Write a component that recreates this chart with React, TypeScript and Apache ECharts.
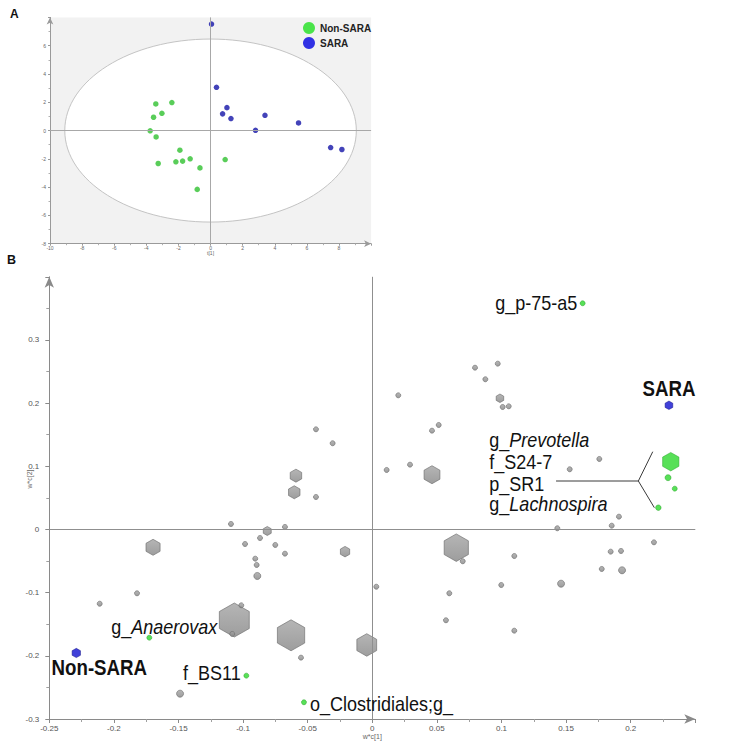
import React, { useEffect, useRef } from 'react';
import * as echarts from 'echarts';

// ---------- Panel A : scores t[1] / t[2] ----------
const groupNames = ['Non-SARA', 'SARA'];
const nonSaraT1 = [-3.41, -2.41, -3.03, -3.55, -3.76, -3.39, -1.91, -3.26, -2.16, -1.74, -1.27, -0.66, 0.91, -0.83];
const nonSaraT2 = [1.88, 1.98, 1.22, 0.94, -0.02, -0.45, -1.39, -2.33, -2.21, -2.16, -2.0, -2.64, -2.05, -4.16];
const saraT1 = [0.06, 0.37, 1.02, 0.75, 1.27, 3.39, 2.8, 5.48, 7.48, 8.18];
const saraT2 = [7.53, 3.06, 1.62, 1.18, 0.85, 1.08, 0.02, 0.54, -1.2, -1.34];
const ellipseT1 = 9.08; // Hotelling T2 ellipse semi-axis on t[1]
const ellipseT2 = 6.47; // on t[2]
const axisA = { xMin: -10, xMax: 10, xStep: 2, yMin: -8, yMax: 8, yStep: 2 };

// ---------- Panel B : loadings w*c[1] / w*c[2] ----------
const grayW1 = [
  -0.1068, -0.0629, 0.065, -0.0043, 0.0462, -0.1697, -0.0591, -0.0604, -0.0211, -0.0813, 0.0988,
  -0.089, -0.1488, 0.1933, 0.1461,
  -0.0436, -0.0307, -0.0436, 0.0971, 0.0795, 0.0875, 0.0201, 0.1009, 0.1056, 0.0514, 0.0462,
  0.1757, 0.1528, 0.0111, 0.0292, -0.1094, -0.0676, -0.0985, -0.0869, -0.0751, -0.0676, -0.0906,
  -0.0895, 0.0031, -0.1821, -0.211, -0.1014, -0.1084, -0.0552, 0.1909, 0.1853, 0.1432, 0.218,
  0.1845, 0.1925, 0.1776, 0.07, 0.1099, 0.0998, 0.0596, 0.057, 0.1099,
];
const grayW2 = [
  -0.1433, -0.1675, -0.0288, -0.1828, 0.0867, -0.0282, 0.0852, 0.0589, -0.0351, -0.0024, 0.2077,
  -0.0736, -0.2599, -0.0646, -0.0858,
  0.1586, 0.1365, 0.0514, 0.2625, 0.2561, 0.2378, 0.2124, 0.1939, 0.195, 0.1654, 0.1564,
  0.1116, 0.0953, 0.0942, 0.1026, 0.0087, 0.004, -0.023, -0.0135, -0.0245, -0.0383, -0.0462,
  -0.0562, -0.0906, -0.101, -0.1175, -0.12, -0.1654, -0.2029, 0.0203, 0.006, 0.0019, -0.0203,
  -0.0351, -0.034, -0.0625, -0.0503, -0.042, -0.0879, -0.101, -0.1437, -0.1602,
];
const grayVip = [
  6.8, 6.2, 5.5, 4.5, 3.6, 3.2, 2.6, 2.6, 2.1, 1.8, 1.7,
  1.4, 1.4, 1.4, 1.4,
  1, 1, 1, 1, 1, 1, 1, 1, 1, 1, 1,
  1, 1, 1, 1, 1, 1, 1, 1, 1, 1, 1,
  1, 1, 1, 1, 1, 1, 1, 1, 1, 1, 1,
  1, 1, 1, 1, 1, 1, 1, 1, 1,
];
const taxaNames = ['g_Prevotella', 'f_S24-7', 'p_SR1', 'g_Lachnospira', 'g_p-75-a5', 'g_Anaerovax', 'f_BS11', 'o_Clostridiales;g_'];
const taxaW1 = [0.231, 0.2289, 0.2341, 0.2214, 0.1628, -0.1726, -0.0975, -0.0529];
const taxaW2 = [0.1073, 0.082, 0.0646, 0.0345, 0.3581, -0.1713, -0.2314, -0.2735];
const taxaVip = [3.7, 1.2, 1.0, 1.1, 1.0, 1.0, 1.0, 1.0];
const italicGenera = ['Prevotella', 'Lachnospira', 'Anaerovax'];
const groupW1 = [-0.2291, 0.2296];
const groupW2 = [-0.1955, 0.1966];
const groupVip = [1.85, 1.7];
const axisB = { xMin: -0.25, xMax: 0.25, xStep: 0.05, yMin: -0.3, yMax: 0.4, yStep: 0.1 };

const FONT = "'Liberation Sans', Arial, Helvetica, sans-serif";
const HEX = 'path://M0,-10L8.66,-5L8.66,5L0,10L-8.66,5L-8.66,-5Z';
const isHex = (v: number) => v >= 1.6;
const symFn = (val: number[]) => (isHex(val[2]) ? HEX : 'circle');
const sizeFn = (val: number[]) => (isHex(val[2]) ? [val[2] * 5 * 0.88, val[2] * 5] : val[2] * 5);

const zip3 = (a: number[], b: number[], c: number[]) => a.map((v, i) => [v, b[i], c[i]]);

function richLabel(name: string) {
  const g = italicGenera.find((n) => name.endsWith(n));
  if (g) return `{n|${name.slice(0, name.length - g.length)}}{i|${g}}`;
  return `{n|${name}}`;
}

export default function App() {
  const ref = useRef<HTMLDivElement>(null);
  useEffect(() => {
    const chart = echarts.init(ref.current!, null, { renderer: 'svg' });

    const axisCommonA = {
      axisLine: { show: true, onZero: false, symbol: ['none', 'arrow'], symbolSize: [5, 7], lineStyle: { color: '#9a9a9a', width: 1 } },
      axisTick: { show: true, length: 2, lineStyle: { color: '#9a9a9a' } },
      minorTick: { show: true, splitNumber: 2, length: 1.5, lineStyle: { color: '#b0b0b0' } },
      splitLine: { show: false },
      axisLabel: { fontSize: 5, color: '#666', fontFamily: FONT, showMaxLabel: false },
    };
    const axisCommonB = {
      axisLine: { show: true, onZero: false, symbol: ['none', 'arrow'], symbolSize: [7, 11], lineStyle: { color: '#8a8a8a', width: 1 } },
      axisTick: { show: true, length: 4, lineStyle: { color: '#8a8a8a' } },
      minorTick: { show: true, splitNumber: 2, length: 3, lineStyle: { color: '#a0a0a0' } },
      splitLine: { show: false },
    };

    const grayData = zip3(grayW1, grayW2, grayVip);
    const taxaData = zip3(taxaW1, taxaW2, taxaVip);
    const groupData = zip3(groupW1, groupW2, groupVip);

    const option: any = {
      animation: false,
      backgroundColor: '#ffffff',
      textStyle: { fontFamily: FONT },
      legend: {
        data: [
          { name: groupNames[0], icon: 'circle', itemStyle: { color: '#1fe01f' } },
          { name: groupNames[1], icon: 'circle', itemStyle: { color: '#0000e0' } },
        ],
        orient: 'vertical',
        left: 303,
        top: 22,
        padding: 0,
        itemWidth: 12,
        itemHeight: 12,
        itemGap: 3,
        selectedMode: false,
        textStyle: { fontSize: 10, fontWeight: 'bold', color: '#222', fontFamily: FONT },
      },
      grid: [
        { left: 50, top: 17.4, width: 321.1, height: 226.3, show: true, backgroundColor: '#f2f2f2', borderWidth: 0, containLabel: false, outerBoundsMode: 'none' },
        { left: 49.3, top: 276.8, width: 646, height: 442.2, show: false, containLabel: false, outerBoundsMode: 'none' },
      ],
      xAxis: [
        {
          type: 'value', gridIndex: 0, min: axisA.xMin, max: axisA.xMax, interval: axisA.xStep,
          ...axisCommonA,
          axisLabel: { ...axisCommonA.axisLabel, margin: 2 },
        },
        {
          type: 'value', gridIndex: 1, min: axisB.xMin, max: axisB.xMax, interval: axisB.xStep,
          ...axisCommonB,
          axisLabel: { fontSize: 8, color: '#555', fontFamily: FONT, margin: 5, showMaxLabel: false },
        },
      ],
      yAxis: [
        {
          type: 'value', gridIndex: 0, min: axisA.yMin, max: axisA.yMax, interval: axisA.yStep,
          ...axisCommonA,
          axisLabel: { ...axisCommonA.axisLabel, margin: 4 },
        },
        {
          type: 'value', gridIndex: 1, min: axisB.yMin, max: axisB.yMax, interval: axisB.yStep,
          ...axisCommonB,
          axisLabel: { fontSize: 8, color: '#555', fontFamily: FONT, margin: 10, showMaxLabel: false },
        },
      ],
      series: [
        {
          type: 'custom', name: 'ellipse', xAxisIndex: 0, yAxisIndex: 0, silent: true, z: 1, clip: false,
          data: [[0, 0, ellipseT1, ellipseT2]],
          renderItem: (params: any, api: any) => {
            const c = api.coord([api.value(0), api.value(1)]);
            const e = api.coord([api.value(2), api.value(3)]);
            return {
              type: 'ellipse',
              shape: { cx: c[0], cy: c[1], rx: Math.abs(e[0] - c[0]), ry: Math.abs(c[1] - e[1]) },
              style: { fill: '#ffffff', stroke: '#c4c4c4', lineWidth: 1 },
            };
          },
        },
        {
          type: 'scatter', name: 'crossA', xAxisIndex: 0, yAxisIndex: 0, data: [], z: 2, silent: true,
          markLine: {
            silent: true, symbol: ['none', 'none'], label: { show: false }, animation: false,
            lineStyle: { color: '#a8a8a8', width: 1, type: 'solid' },
            emphasis: { disabled: true },
            data: [{ xAxis: 0 }, { yAxis: 0 }],
          },
        },
        {
          type: 'scatter', name: groupNames[0], xAxisIndex: 0, yAxisIndex: 0, z: 3, symbolSize: 5.5,
          itemStyle: { color: '#30c030' },
          data: nonSaraT1.map((v, i) => [v, nonSaraT2[i]]),
        },
        {
          type: 'scatter', name: groupNames[1], xAxisIndex: 0, yAxisIndex: 0, z: 3, symbolSize: 5.5,
          itemStyle: { color: '#1414a8' },
          data: saraT1.map((v, i) => [v, saraT2[i]]),
        },
        {
          type: 'scatter', name: 'crossB', xAxisIndex: 1, yAxisIndex: 1, data: [], z: 2, silent: true,
          markLine: {
            silent: true, symbol: ['none', 'none'], label: { show: false }, animation: false,
            lineStyle: { color: '#8f8f8f', width: 1, type: 'solid' },
            emphasis: { disabled: true },
            data: [{ xAxis: 0 }, { yAxis: 0 }],
          },
        },
        {
          type: 'scatter', name: 'loadings', xAxisIndex: 1, yAxisIndex: 1, z: 3,
          symbol: symFn, symbolSize: sizeFn,
          itemStyle: {
            color: new echarts.graphic.LinearGradient(0, 0, 0, 1, [
              { offset: 0, color: '#a3a3a3' },
              { offset: 1, color: '#858585' },
            ]),
            borderColor: '#6c6c6c', borderWidth: 0.8,
          },
          data: grayData,
        },
        {
          type: 'scatter', name: 'taxa', xAxisIndex: 1, yAxisIndex: 1, z: 4,
          symbol: symFn, symbolSize: sizeFn,
          itemStyle: { color: '#2ed82e', borderColor: '#22a022', borderWidth: 0.6 },
          data: taxaData,
        },
        {
          type: 'scatter', name: 'groups', xAxisIndex: 1, yAxisIndex: 1, z: 4,
          symbol: HEX, symbolSize: (v: number[]) => [v[2] * 5 * 0.9, v[2] * 5],
          itemStyle: { color: '#1212d0', borderColor: '#0a0a80', borderWidth: 0.6 },
          data: groupData,
        },
      ],
    };
    chart.setOption(option);

    const P = (x: number, y: number) => chart.convertToPixel({ gridIndex: 1 }, [x, y]) as number[];
    const PA = (x: number, y: number) => chart.convertToPixel({ gridIndex: 0 }, [x, y]) as number[];
    const rich = {
      n: { fontSize: 20, fontFamily: FONT, fill: '#111' },
      i: { fontSize: 20, fontFamily: FONT, fontStyle: 'italic', fill: '#111' },
    };
    const txt = (id: string, text: string, x: number, y: number, align: string) => ({
      type: 'text', id, x, y, scaleX: 0.9, z: 100,
      style: {
        text, rich, fill: '#111', fontSize: 20, fontFamily: FONT,
        align, textAlign: align, verticalAlign: 'middle', textVerticalAlign: 'middle',
      },
    });
    const bold = (id: string, text: string, x: number, y: number, align: string) => ({
      type: 'text', id, x, y, scaleX: 0.85, z: 100,
      style: {
        text, fill: '#111', fontSize: 22, fontWeight: 'bold', fontFamily: FONT,
        align, textAlign: align, verticalAlign: 'middle', textVerticalAlign: 'middle',
      },
    });
    const small = (id: string, text: string, x: number, y: number, size: number, rot = 0) => ({
      type: 'text', id, x, y, rotation: rot, z: 100,
      style: { text, fill: '#666', fontSize: size, fontFamily: FONT, align: 'center', textAlign: 'center', verticalAlign: 'middle', textVerticalAlign: 'middle' },
    });

    const hexP = P(taxaW1[0], taxaW2[0]);
    const left = hexP[0] - 181.4;
    const offs = [-21.4, 0, 22, 42.6];
    const elements: any[] = [];
    for (let k = 0; k < 4; k++) {
      elements.push(txt('t' + k, richLabel(taxaNames[k]), left, hexP[1] + offs[k], 'left'));
    }
    const junction = [hexP[0] - 32.4, hexP[1] + 19.3];
    const lachP = P(taxaW1[3], taxaW2[3]);
    const lineStyle = { stroke: '#3a3a3a', lineWidth: 1 };
    elements.push({ type: 'line', id: 'l0', z: 99, shape: { x1: hexP[0] - 114.7, y1: junction[1], x2: junction[0], y2: junction[1] }, style: lineStyle });
    elements.push({ type: 'line', id: 'l1', z: 99, shape: { x1: junction[0], y1: junction[1], x2: hexP[0] - 18, y2: hexP[1] - 10 }, style: lineStyle });
    elements.push({ type: 'line', id: 'l2', z: 99, shape: { x1: junction[0], y1: junction[1], x2: lachP[0] - 4, y2: lachP[1] }, style: lineStyle });

    const p75 = P(taxaW1[4], taxaW2[4]);
    elements.push(txt('t4', richLabel(taxaNames[4]), p75[0] - 5.4, p75[1], 'right'));
    const ana = P(taxaW1[5], taxaW2[5]);
    elements.push(txt('t5', richLabel(taxaNames[5]), ana[0] + 68, ana[1] - 11, 'right'));
    const bs = P(taxaW1[6], taxaW2[6]);
    elements.push(txt('t6', richLabel(taxaNames[6]), bs[0] - 5.6, bs[1] - 2.4, 'right'));
    const clo = P(taxaW1[7], taxaW2[7]);
    elements.push(txt('t7', richLabel(taxaNames[7]), clo[0] + 6, clo[1] + 1.5, 'left'));

    const nonP = P(groupW1[0], groupW2[0]);
    elements.push(bold('g0', groupNames[0], nonP[0] + 23, nonP[1] + 14, 'center'));
    const saraP = P(groupW1[1], groupW2[1]);
    elements.push(bold('g1', groupNames[1], saraP[0], saraP[1] - 16.6, 'center'));

    // axis titles
    const xNameB = P(0, axisB.yMin);
    elements.push(small('xlabB', 'w*c[1]', xNameB[0], xNameB[1] + 17, 7));
    elements.push(small('ylabB', 'w*c[2]', 29, 479, 7, Math.PI / 2));
    const xNameA = PA(0, axisA.yMin);
    elements.push(small('xlabA', 't[1]', xNameA[0], xNameA[1] + 9, 5));

    elements.push({
      type: 'text', id: 'panelA', x: 10, y: 13.5, z: 100,
      style: { text: 'A', fill: '#111', fontSize: 12, fontWeight: 'bold', fontFamily: FONT, align: 'left', textAlign: 'left', verticalAlign: 'middle', textVerticalAlign: 'middle' },
    });
    elements.push({
      type: 'text', id: 'panelB', x: 7, y: 259.5, z: 100,
      style: { text: 'B', fill: '#111', fontSize: 12.5, fontWeight: 'bold', fontFamily: FONT, align: 'left', textAlign: 'left', verticalAlign: 'middle', textVerticalAlign: 'middle' },
    });

    chart.setOption({ graphic: { elements } });

    return () => chart.dispose();
  }, []);

  return <div ref={ref} style={{ position: 'fixed', left: 0, top: 0, width: 738, height: 742, background: '#fff' }} />;
}
